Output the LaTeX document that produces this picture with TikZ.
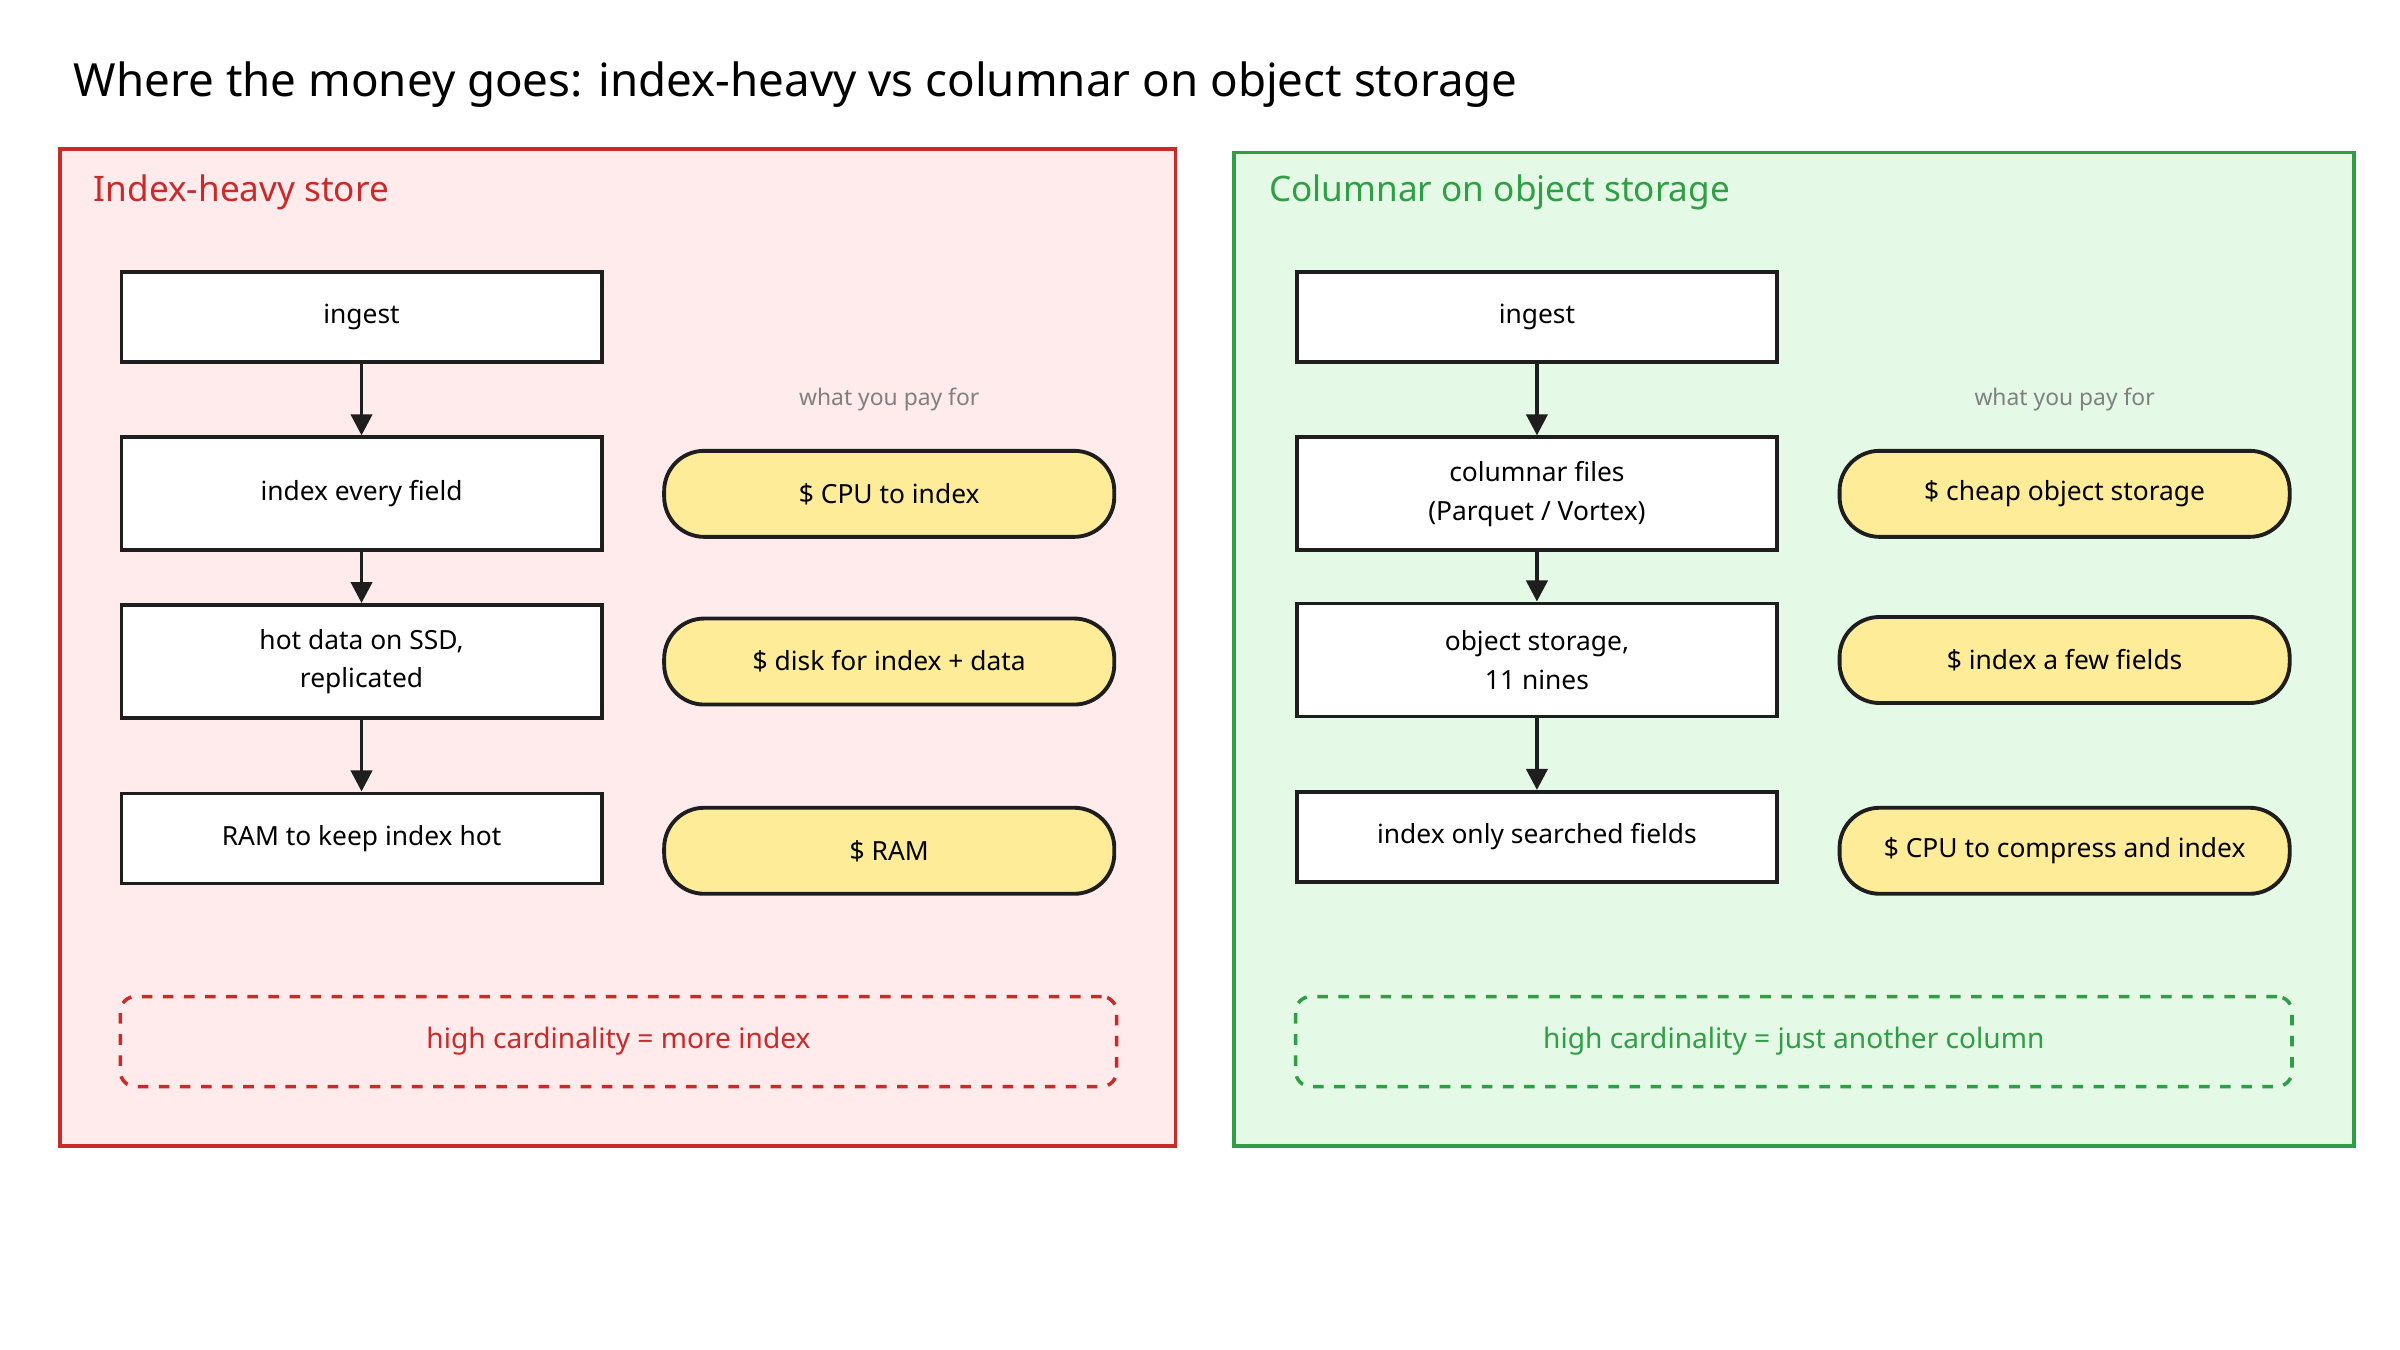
\documentclass[tikz,border=0pt]{standalone}
\usepackage{fontspec}
\setmainfont{Noto Sans}
\usetikzlibrary{arrows.meta, positioning}
\definecolor{redline}{RGB}{201,42,42}
\definecolor{redfill}{RGB}{255,235,236}
\definecolor{greenline}{RGB}{47,158,68}
\definecolor{greenfill}{RGB}{228,249,230}
\definecolor{payfill}{RGB}{255,236,153}
\definecolor{inkgray}{RGB}{30,30,30}

\begin{document}
\begin{tikzpicture}[x=0.015385cm, y=-0.015385cm,
  panel/.style={line width=1pt},
  stage/.style={draw=inkgray, line width=1.1pt, fill=white, minimum width=4.8cm,
    minimum height=0.9cm, align=center, font=\fontsize{7.5}{11}\selectfont},
  tall/.style={stage, minimum height=1.13cm},
  pay/.style={draw=inkgray, line width=1.1pt, fill=payfill, rounded corners=0.4cm,
    minimum width=4.5cm, minimum height=0.86cm, font=\fontsize{7.5}{9}\selectfont},
  note/.style={dashed, line width=1pt, rounded corners=0.15cm, minimum width=9.96cm,
    minimum height=0.9cm, font=\fontsize{8}{10}\selectfont},
  flow/.style={-{Triangle[length=6pt,width=6pt]}, line width=1.1pt, draw=inkgray}]
  \useasboundingbox (0,0) rectangle (1560,877);

  \node[anchor=west, font=\fontsize{13}{15}\selectfont] (title) at (40,55)
    {Where the money goes: index-heavy vs columnar on object storage};

  % left panel
  \draw[panel, draw=redline, fill=redfill] (39,97) rectangle (764,745);
  \node[anchor=west, text=redline, font=\fontsize{10}{12}\selectfont] (ltitle) at (53,125) {Index-heavy store};
  \node[stage] (lingest) at (235,206) {ingest};
  \node[tall] (lindex) at (235,321) {index every field};
  \node[tall] (lhot) at (235,430) {hot data on SSD,\\replicated};
  \node[stage] (lram) at (235,545) {RAM to keep index hot};
  \draw[flow] (lingest) -- (lindex);
  \draw[flow] (lindex) -- (lhot);
  \draw[flow] (lhot) -- (lram);
  \node[text=gray, font=\fontsize{6.5}{8}\selectfont] (lpay) at (578,260) {what you pay for};
  \node[pay] (lcpu) at (578,321) {\$ CPU to index};
  \node[pay] (ldisk) at (578,430) {\$ disk for index + data};
  \node[pay] (lmem) at (578,553) {\$ RAM};
  \node[note, draw=redline, text=redline] (lnote) at (402,677) {high cardinality = more index};

  % right panel
  \draw[panel, draw=greenline, fill=greenfill] (802,99) rectangle (1530,745);
  \node[anchor=west, text=greenline, font=\fontsize{10}{12}\selectfont] (rtitle) at (817,125) {Columnar on object storage};
  \node[stage] (ringest) at (999,206) {ingest};
  \node[tall] (rcol) at (999,321) {columnar files\\(Parquet / Vortex)};
  \node[tall] (robj) at (999,429) {object storage,\\11 nines};
  \node[stage] (rsearch) at (999,544) {index only searched fields};
  \draw[flow] (ringest) -- (rcol);
  \draw[flow] (rcol) -- (robj);
  \draw[flow] (robj) -- (rsearch);
  \node[text=gray, font=\fontsize{6.5}{8}\selectfont] (rpay) at (1342,260) {what you pay for};
  \node[pay] (rcheap) at (1342,321) {\$ cheap object storage};
  \node[pay] (rfew) at (1342,429) {\$ index a few fields};
  \node[pay] (rcpu) at (1342,553) {\$ CPU to compress and index};
  \node[note, draw=greenline, text=greenline] (rnote) at (1166,677) {high cardinality = just another column};
\end{tikzpicture}
\end{document}
